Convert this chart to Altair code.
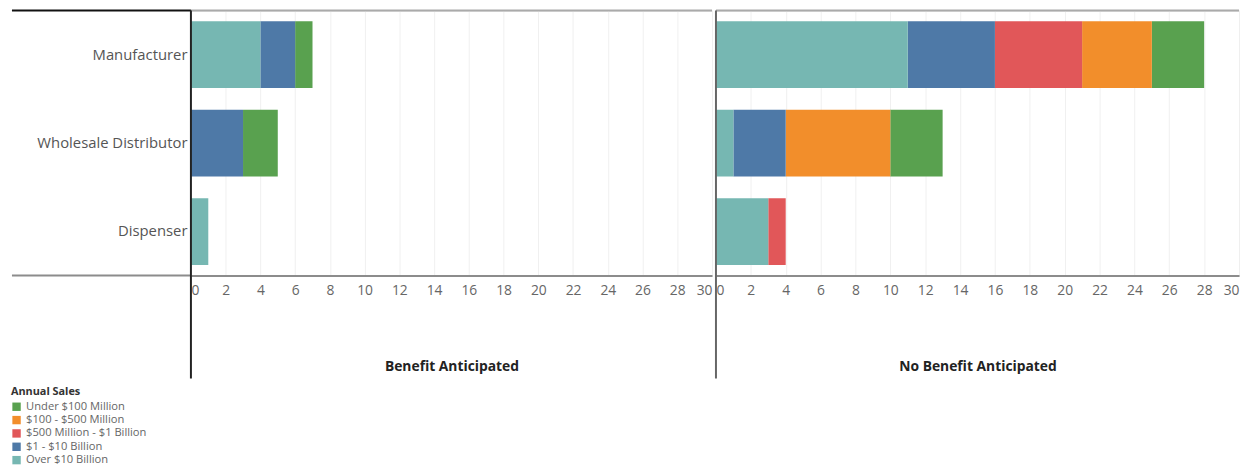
import altair as alt
import pandas as pd

roles = ["Manufacturer", "Wholesale Distributor", "Dispenser"]
sales_bands = ["Under $100 Million", "$100 - $500 Million",
               "$500 Million - $1 Billion", "$1 - $10 Billion", "Over $10 Billion"]
band_colors = ["#59a14f", "#f28e2b", "#e15759", "#4e79a7", "#76b7b2"]
# stacking position, left to right: Over $10B first
stack_order = [4, 3, 2, 1, 0]
panel_titles = ["Benefit Anticipated", "No Benefit Anticipated"]
x_ticks = list(range(0, 31, 2))

# counts per role, in the order of sales_bands
benefit_manufacturer = [1, 0, 0, 2, 4]
benefit_wholesale = [2, 0, 0, 3, 0]
benefit_dispenser = [0, 0, 0, 0, 1]
nobenefit_manufacturer = [3, 4, 5, 5, 11]
nobenefit_wholesale = [3, 6, 0, 3, 1]
nobenefit_dispenser = [0, 0, 1, 0, 3]

FONT = "Open Sans"


def make_df(rows):
    recs = []
    for role, vals in zip(roles, rows):
        for band, o, v in zip(sales_bands, stack_order, vals):
            if v > 0:
                recs.append({"role": role, "band": band, "ord": o, "count": v})
    return pd.DataFrame(recs)


df_benefit = make_df([benefit_manufacturer, benefit_wholesale, benefit_dispenser])
df_nobenefit = make_df([nobenefit_manufacturer, nobenefit_wholesale, nobenefit_dispenser])

H = 268
LABEL_W = 181
one = alt.Data(values=[{"k": 1}])


def panel(df, title, first, width):
    bars = alt.Chart(df).mark_bar().encode(
        x=alt.X("count:Q", stack="zero",
                scale=alt.Scale(domain=[0, 30], nice=False),
                axis=alt.Axis(values=x_ticks, title=title, format="d",
                              labelFlush=True, labelFlushOffset=0,
                              labelFont=FONT, labelFontSize=14, labelColor="#666666",
                              labelPadding=8, ticks=False, tickSize=0,
                              domainColor="#8c8c8c", domainWidth=2,
                              grid=True, gridColor="#f0f0f0", gridWidth=1,
                              titleFont=FONT, titleFontSize=14, titleFontWeight="bold",
                              titleColor="#222222", titlePadding=63)),
        y=alt.Y("role:N", sort=roles, title=None,
                scale=alt.Scale(domain=roles, paddingInner=0.245, paddingOuter=0.12),
                axis=(alt.Axis(labelFont=FONT, labelFontSize=15, labelColor="#555555",
                               labelPadding=4, ticks=False, domain=False, grid=False,
                               minExtent=LABEL_W, maxExtent=LABEL_W) if first else None)),
        color=alt.Color("band:N", title="Annual Sales",
                        scale=alt.Scale(domain=sales_bands, range=band_colors),
                        legend=alt.Legend(orient="none", legendX=-182, legendY=380,
                                          direction="vertical",
                                          titleFont=FONT, titleFontSize=11, titleFontWeight="bold",
                                          titleColor="#333333", labelFont=FONT, labelFontSize=11.3,
                                          labelColor="#666666", symbolType="square",
                                          symbolSize=72, symbolStrokeWidth=0, rowPadding=1.5,
                                          titlePadding=4)),
        order=alt.Order("ord:Q", sort="ascending"),
    )
    top = alt.Chart(one).mark_rule(color="#aaaaaa", strokeWidth=2).encode(
        x=alt.value(0), x2=alt.value(width), y=alt.value(0))
    vline = alt.Chart(one).mark_rule(color="#222222" if first else "#666666", strokeWidth=2).encode(
        x=alt.value(0), y=alt.value(0), y2=alt.value(372))
    layers = [bars, top]
    if first:
        top_left = alt.Chart(one).mark_rule(color="#111111", strokeWidth=2).encode(
            x=alt.value(-LABEL_W), x2=alt.value(0), y=alt.value(0))
        bot_left = alt.Chart(one).mark_rule(color="#8c8c8c", strokeWidth=2).encode(
            x=alt.value(-LABEL_W), x2=alt.value(0), y=alt.value(H))
        layers += [top_left, bot_left]
    layers.append(vline)
    return alt.layer(*layers).properties(width=width, height=H)


chart = alt.hconcat(
    panel(df_benefit, panel_titles[0], True, 527),
    panel(df_nobenefit, panel_titles[1], False, 529),
    spacing=0,
).resolve_scale(color="shared", y="shared").properties(
    padding={"left": 2, "top": -2, "right": 0, "bottom": 0}
).configure_view(stroke=None).configure(background="white")

chart.save("out.html", embed_options={"renderer": "svg", "actions": False})
